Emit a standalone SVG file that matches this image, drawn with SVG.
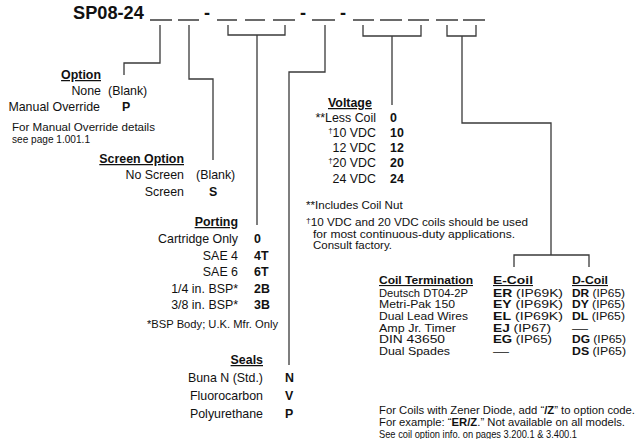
<svg xmlns="http://www.w3.org/2000/svg" width="641" height="439" viewBox="0 0 641 439">
<style>
text{font-family:"Liberation Sans",Arial,sans-serif;fill:#111;}
.t{font-size:12.4px;}
.b{font-size:12.4px;font-weight:bold;}
.h{font-size:12.4px;font-weight:bold;text-decoration:underline;}
.s{font-size:10.6px;}
.v{font-size:11.6px;}
.n{font-size:10.2px;}
.c{font-size:10.4px;}
.cb{font-weight:bold;}
.ch{font-size:11px;font-weight:bold;text-decoration:underline;}
.f{font-size:10.6px;}
.e{text-anchor:end;}
.ln{fill:none;stroke:#3a3a3a;stroke-width:1.3;}
</style>
<rect width="641" height="439" fill="#fff"/>
<g id="title">
<text x="73" y="19" style="font-size:18.2px;font-weight:bold;">SP08-24</text>
<g class="ln">
<path d="M150,20H172M178,20H199M217,20H237M245,20H265M273,20H295M312,20H335M353,20H374M380,20H402M408,20H429M436,20H458M463,20H485"/>
</g>
<text x="207" y="19" style="font-size:18.2px;font-weight:bold;text-anchor:middle;">-</text>
<text x="303" y="19" style="font-size:18.2px;font-weight:bold;text-anchor:middle;">-</text>
<text x="343" y="19" style="font-size:18.2px;font-weight:bold;text-anchor:middle;">-</text>
</g>
<g id="connectors" class="ln">
<path d="M160,25V63H124V75"/>
<path d="M189,25V79H213V160"/>
<path d="M228,25V35H285V25M257,35V225"/>
<path d="M325,25V72H289V365"/>
<path d="M363,25V36H421V25M392,36V105"/>
<path d="M447,25V36H476V25M462,36V123H551V255M514,267V255H589V267"/>
</g>
<g id="option">
<text x="101" y="79" class="h e">Option</text>
<text x="101" y="95" class="t e">None</text>
<text x="108" y="95" class="t">(Blank)</text>
<text x="100" y="111" class="t e">Manual Override</text>
<text x="122" y="111" class="b">P</text>
<text x="12" y="131" class="s" textLength="143" lengthAdjust="spacingAndGlyphs">For Manual Override details</text>
<text x="12" y="143" class="s" textLength="78" lengthAdjust="spacingAndGlyphs">see page 1.001.1</text>
</g>
<g id="screen-option">
<text x="184" y="163" class="h e">Screen Option</text>
<text x="184" y="179" class="t e">No Screen</text>
<text x="196" y="179" class="t">(Blank)</text>
<text x="184" y="196" class="t e">Screen</text>
<text x="209" y="196" class="b">S</text>
</g>
<g id="porting">
<text x="238" y="226" class="h e">Porting</text>
<text x="238" y="243" class="t e">Cartridge Only</text>
<text x="254" y="243" class="b">0</text>
<text x="238" y="259.5" class="t e">SAE 4</text>
<text x="254" y="259.5" class="b">4T</text>
<text x="238" y="276" class="t e">SAE 6</text>
<text x="254" y="276" class="b">6T</text>
<text x="238" y="292.5" class="t e">1/4 in. BSP*</text>
<text x="254" y="292.5" class="b">2B</text>
<text x="238" y="309" class="t e">3/8 in. BSP*</text>
<text x="254" y="309" class="b">3B</text>
<text x="147" y="328" style="font-size:11.2px;">*BSP Body; U.K. Mfr. Only</text>
</g>
<g id="seals">
<text x="263" y="364" class="h e">Seals</text>
<text x="263" y="382" class="t e">Buna N (Std.)</text>
<text x="285" y="382" class="b">N</text>
<text x="263" y="400" class="t e">Fluorocarbon</text>
<text x="285" y="400" class="b">V</text>
<text x="263" y="418" class="t e">Polyurethane</text>
<text x="285" y="418" class="b">P</text>
</g>
<g id="voltage">
<text x="328" y="107" class="h">Voltage</text>
<text x="376" y="122" class="t e">**Less Coil</text>
<text x="390" y="122" class="b">0</text>
<text x="376" y="137" class="t e"><tspan font-size="8" dy="-4">†</tspan><tspan dy="4">10 VDC</tspan></text>
<text x="390" y="137" class="b">10</text>
<text x="376" y="152" class="t e">12 VDC</text>
<text x="390" y="152" class="b">12</text>
<text x="376" y="167" class="t e"><tspan font-size="8" dy="-4">†</tspan><tspan dy="4">20 VDC</tspan></text>
<text x="390" y="167" class="b">20</text>
<text x="376" y="183" class="t e">24 VDC</text>
<text x="390" y="183" class="b">24</text>
<text x="306" y="209" class="v">**Includes Coil Nut</text>
<text x="306" y="226" class="n" textLength="222" lengthAdjust="spacingAndGlyphs"><tspan font-size="7.5" dy="-3.5">†</tspan><tspan dy="3.5">10 VDC and 20 VDC coils should be used</tspan></text>
<text x="313" y="237.5" class="n" textLength="202" lengthAdjust="spacingAndGlyphs">for most continuous-duty applications.</text>
<text x="313" y="249" class="n" textLength="79" lengthAdjust="spacingAndGlyphs">Consult factory.</text>
</g>
<g id="coil-termination">
<text x="379" y="284" class="ch" textLength="94" lengthAdjust="spacingAndGlyphs">Coil Termination</text>
<text x="493" y="284" class="ch" textLength="40" lengthAdjust="spacingAndGlyphs">E-Coil</text>
<text x="572" y="284" class="ch" textLength="36" lengthAdjust="spacingAndGlyphs">D-Coil</text>
<text x="379" y="296.5" class="c" textLength="89" lengthAdjust="spacingAndGlyphs">Deutsch DT04-2P</text>
<text x="379" y="308.2" class="c" textLength="76" lengthAdjust="spacingAndGlyphs">Metri-Pak 150</text>
<text x="379" y="319.9" class="c" textLength="89" lengthAdjust="spacingAndGlyphs">Dual Lead Wires</text>
<text x="379" y="331.6" class="c" textLength="77" lengthAdjust="spacingAndGlyphs">Amp Jr. Timer</text>
<text x="379" y="343.3" class="c" textLength="66" lengthAdjust="spacingAndGlyphs">DIN 43650</text>
<text x="379" y="355" class="c" textLength="71" lengthAdjust="spacingAndGlyphs">Dual Spades</text>
<text x="493" y="296.5" class="c" textLength="70" lengthAdjust="spacingAndGlyphs"><tspan class="cb">ER</tspan> (IP69K)</text>
<text x="493" y="308.2" class="c" textLength="70" lengthAdjust="spacingAndGlyphs"><tspan class="cb">EY</tspan> (IP69K)</text>
<text x="493" y="319.9" class="c" textLength="70" lengthAdjust="spacingAndGlyphs"><tspan class="cb">EL</tspan> (IP69K)</text>
<text x="493" y="331.6" class="c" textLength="58" lengthAdjust="spacingAndGlyphs"><tspan class="cb">EJ</tspan> (IP67)</text>
<text x="493" y="343.3" class="c" textLength="59" lengthAdjust="spacingAndGlyphs"><tspan class="cb">EG</tspan> (IP65)</text>
<text x="493" y="355" class="c" textLength="16" lengthAdjust="spacingAndGlyphs">—</text>
<text x="572" y="296.5" class="c" textLength="53" lengthAdjust="spacingAndGlyphs"><tspan class="cb">DR</tspan> (IP65)</text>
<text x="572" y="308.2" class="c" textLength="53" lengthAdjust="spacingAndGlyphs"><tspan class="cb">DY</tspan> (IP65)</text>
<text x="572" y="319.9" class="c" textLength="53" lengthAdjust="spacingAndGlyphs"><tspan class="cb">DL</tspan> (IP65)</text>
<text x="572" y="331.6" class="c" textLength="16" lengthAdjust="spacingAndGlyphs">—</text>
<text x="572" y="343.3" class="c" textLength="54" lengthAdjust="spacingAndGlyphs"><tspan class="cb">DG</tspan> (IP65)</text>
<text x="572" y="355" class="c" textLength="54" lengthAdjust="spacingAndGlyphs"><tspan class="cb">DS</tspan> (IP65)</text>
</g>
<g id="zener-note">
<text x="379" y="414" class="f" textLength="256" lengthAdjust="spacingAndGlyphs">For Coils with Zener Diode, add “<tspan font-weight="bold">/Z</tspan>” to option code.</text>
<text x="379" y="426" class="f" textLength="246" lengthAdjust="spacingAndGlyphs">For example: “<tspan font-weight="bold">ER/Z</tspan>.” Not available on all models.</text>
<text x="379" y="438" class="f" textLength="198" lengthAdjust="spacingAndGlyphs">See coil option info. on pages 3.200.1 &amp; 3.400.1</text>
</g>
</svg>
